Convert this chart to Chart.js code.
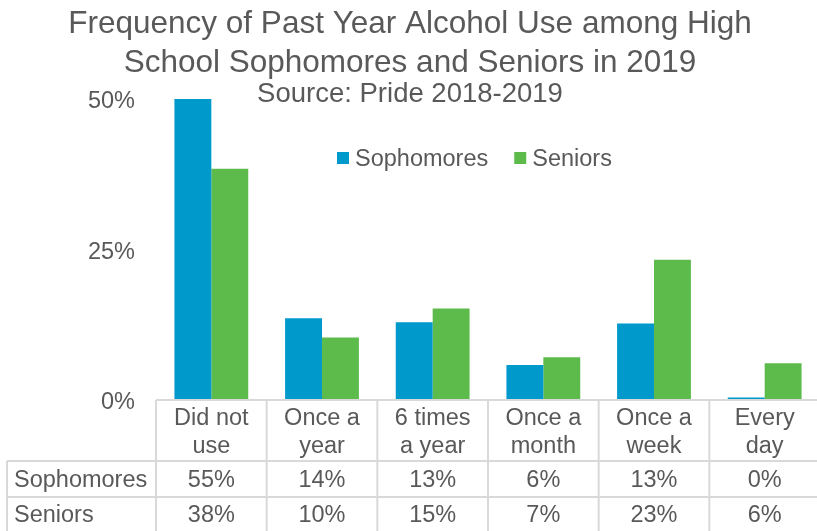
<!DOCTYPE html>
<html>
<head>
<meta charset="utf-8">
<script src="https://cdn.jsdelivr.net/npm/chart.js@4.4.1/dist/chart.umd.min.js"></script>
<style>
  html, body { margin: 0; padding: 0; background: #fff; overflow: hidden; }
  #wrap { width: 820px; height: 531px; }
</style>
</head>
<body>
<div id="wrap"><canvas id="chart"></canvas></div>
<script>
// survey answers, one column per category in the data table
const categories = [['Did not', 'use'], ['Once a', 'year'], ['6 times', 'a year'], ['Once a', 'month'], ['Once a', 'week'], ['Every', 'day']];
const sophomores = [55, 13.6, 12.9, 5.8, 12.7, 0.4];
const seniors = [38.4, 10.4, 15.2, 7.1, 23.3, 6.1];
const yTicks = [0, 25, 50];

const titleLines = ['Frequency of Past Year Alcohol Use among High', 'School Sophomores and Seniors in 2019'];
const subtitle = 'Source: Pride 2018-2019';

const FONT = "'Liberation Sans', Arial, sans-serif";
const TEXT = '#595959';
const LINE = '#d9d9d9';
const BLUE = '#0099cc';
const GREEN = '#5cbb4b';

// title block sits above the plot and overlaps its top edge
const titleBlock = {
  id: 'titleBlock',
  afterDraw(chart) {
    const ctx = chart.ctx;
    const cx = chart.width / 2;
    ctx.save();
    ctx.fillStyle = TEXT;
    ctx.textAlign = 'center';
    ctx.textBaseline = 'alphabetic';
    ctx.font = '31.5px ' + FONT;
    ctx.fillText(titleLines[0], cx, 33);
    ctx.fillText(titleLines[1], cx, 72);
    ctx.font = '27.5px ' + FONT;
    ctx.fillText(subtitle, cx, 102);
    ctx.restore();
  }
};

// legend drawn inside the plot area
const legendBlock = {
  id: 'legendBlock',
  afterDraw(chart) {
    const ctx = chart.ctx;
    ctx.save();
    ctx.font = '23.5px ' + FONT;
    ctx.textBaseline = 'alphabetic';
    let x = 337;
    chart.data.datasets.forEach(ds => {
      ctx.fillStyle = ds.backgroundColor;
      ctx.fillRect(x, 152, 12, 12);
      ctx.fillStyle = TEXT;
      ctx.fillText(ds.label, x + 18, 166);
      x += 18 + ctx.measureText(ds.label).width + 26;
    });
    ctx.restore();
  }
};

// Excel style data table under the x axis
const dataTable = {
  id: 'dataTable',
  afterDraw(chart) {
    const ctx = chart.ctx;
    const area = chart.chartArea;
    const xs = chart.scales.x;
    const n = categories.length;
    const colW = (area.right - area.left) / n;
    const top = area.bottom;
    const row1 = top + 61;
    const row2 = top + 97;
    const bottom = chart.height + 5;
    const labelLeft = 7;

    ctx.save();
    ctx.strokeStyle = LINE;
    ctx.lineWidth = 2;
    ctx.beginPath();
    ctx.moveTo(area.left, top); ctx.lineTo(chart.width, top);
    ctx.moveTo(labelLeft, row1); ctx.lineTo(chart.width, row1);
    ctx.moveTo(labelLeft, row2); ctx.lineTo(chart.width, row2);
    ctx.moveTo(labelLeft, row1); ctx.lineTo(labelLeft, bottom);
    for (let i = 0; i <= n; i++) {
      const x = area.left + i * colW;
      ctx.moveTo(x, top); ctx.lineTo(x, bottom);
    }
    ctx.stroke();

    ctx.fillStyle = TEXT;
    ctx.font = '23.5px ' + FONT;
    ctx.textBaseline = 'alphabetic';
    ctx.textAlign = 'center';
    categories.forEach((lines, i) => {
      const cx = xs.getPixelForValue(i);
      ctx.fillText(lines[0], cx, top + 25);
      ctx.fillText(lines[1], cx, top + 53);
      ctx.fillText(Math.round(sophomores[i]) + '%', cx, row1 + 26);
      ctx.fillText(Math.round(seniors[i]) + '%', cx, row2 + 25);
    });
    ctx.textAlign = 'left';
    chart.data.datasets.forEach((ds, k) => {
      ctx.fillText(ds.label, labelLeft + 7, k === 0 ? row1 + 26 : row2 + 25);
    });
    ctx.restore();
  }
};

new Chart(document.getElementById('chart'), {
  type: 'bar',
  data: {
    labels: categories.map(c => c.join(' ')),
    datasets: [
      { label: 'Sophomores', data: sophomores, backgroundColor: BLUE, borderWidth: 0 },
      { label: 'Seniors', data: seniors, backgroundColor: GREEN, borderWidth: 0 }
    ]
  },
  options: {
    responsive: true,
    maintainAspectRatio: false,
    animation: false,
    layout: { padding: { top: 99, bottom: 131, left: 0, right: 0 } },
    datasets: { bar: { categoryPercentage: 0.667, barPercentage: 1.0 } },
    plugins: { legend: { display: false }, tooltip: { enabled: false } },
    scales: {
      x: {
        grid: { display: false, drawTicks: false },
        border: { display: false },
        ticks: { display: false },
        afterFit: s => { s.height = 0; s.paddingLeft = 0; s.paddingRight = 0; }
      },
      y: {
        min: 0,
        max: 50,
        grid: { display: false, drawTicks: false },
        border: { display: false },
        ticks: { color: TEXT, font: { family: FONT, size: 23.5 }, padding: 21, labelOffset: 3, callback: v => v + '%' },
        afterBuildTicks: s => { s.ticks = yTicks.map(v => ({ value: v })); },
        afterFit: s => { s.width = 156; s.paddingTop = 0; s.paddingBottom = 0; }
      }
    }
  },
  plugins: [titleBlock, legendBlock, dataTable]
});
</script>
</body>
</html>
